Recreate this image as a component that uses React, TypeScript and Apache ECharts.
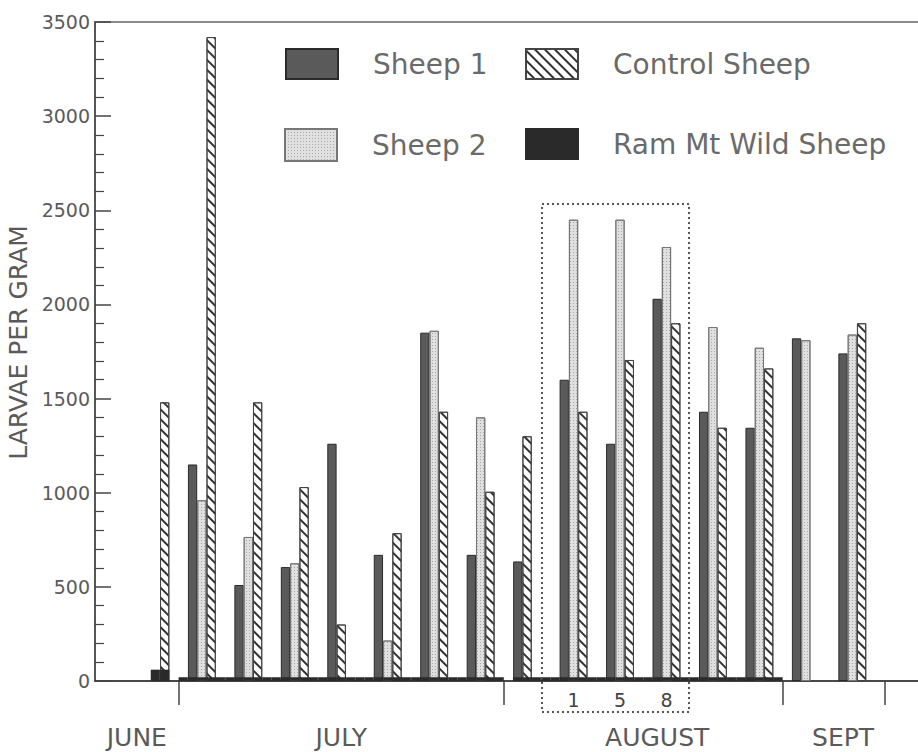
import React, { useEffect, useRef } from "react";
import * as echarts from "echarts";

// ---- data ----
const SLOT_COUNT = 89; // sampling slots along the time axis
const sampleStartSlots = [7, 10, 15, 20, 25, 30, 35, 40, 45, 50, 55, 60, 65, 70, 75, 80];
const sheep1Values = [null, 1150, 510, 605, 1260, 670, 1850, 670, 635, 1600, 1260, 2030, 1430, 1345, 1820, 1740];
const sheep2Values = [null, 960, 765, 625, null, 215, 1860, 1400, null, 2450, 2450, 2305, 1880, 1770, 1810, 1840];
const controlValues = [1480, 3420, 1480, 1030, 300, 785, 1430, 1005, 1300, 1430, 1705, 1900, 1345, 1660, null, 1900];
const ramFromSlots = [6, 9, 45];
const ramToSlots = [7, 43, 73];
const ramValues = [60, 20, 20];
const monthNames = ["JUNE", "JULY", "AUGUST", "SEPT"];
const monthLabelSlots = [4, 26, 60, 80];
const monthBoundarySlots = [9, 44, 74, 85];
const dayLabels = ["1", "5", "8"];
const dayLabelSlots = [51, 56, 61];
const yMin = 0;
const yMax = 3500;
const yInterval = 500;

const FONT = "DejaVu Sans";

function buildSeriesData() {
  const s1: (number | null)[] = new Array(SLOT_COUNT).fill(null);
  const s2: (number | null)[] = new Array(SLOT_COUNT).fill(null);
  const c: (number | null)[] = new Array(SLOT_COUNT).fill(null);
  const r: (number | null)[] = new Array(SLOT_COUNT).fill(null);
  sampleStartSlots.forEach((start, g) => {
    let slot = start;
    const vals = [sheep1Values[g], sheep2Values[g], controlValues[g]];
    const targets = [s1, s2, c];
    vals.forEach((v, k) => {
      if (v !== null && v !== undefined) {
        targets[k][slot] = v;
        slot += 1;
      }
    });
  });
  ramFromSlots.forEach((from, i) => {
    for (let s = from; s <= ramToSlots[i]; s++) r[s] = ramValues[i];
  });
  return { s1, s2, c, r };
}

export default function App() {
  const ref = useRef<HTMLDivElement>(null);
  useEffect(() => {
    if (!ref.current) return;
    const chart = echarts.init(ref.current, undefined, { renderer: "svg" });
    const { s1, s2, c, r } = buildSeriesData();
    const categories = Array.from({ length: SLOT_COUNT }, (_, i) => String(i));
    const BAR_W = 9.3;

    const legendCommon = {
      orient: "horizontal",
      icon: "rect",
      padding: 0,
      selectedMode: false,
      itemWidth: 52,
      itemHeight: 30,
      textStyle: { fontSize: 28, color: "#6a6a6a", fontFamily: FONT, padding: [0, 0, 0, 30] },
    };

    const option: any = {
      animation: false,
      backgroundColor: "#fff",
      grid: {
        left: 95,
        top: 22,
        width: 827,
        bottom: 71,
        outerBoundsMode: "none",
        containLabel: false,
        show: true,
        borderColor: "#666",
        borderWidth: 1.5,
        backgroundColor: "transparent",
      },
      legend: [
        { ...legendCommon, data: ["Sheep 1"], left: 285, top: 48 },
        { ...legendCommon, data: ["Control Sheep"], left: 525, top: 48 },
        { ...legendCommon, data: ["Sheep 2"], left: 284, top: 128, itemHeight: 32 },
        { ...legendCommon, data: ["Ram Mt Wild Sheep"], left: 525, top: 128 },
      ],
      xAxis: [
        {
          type: "category",
          data: categories,
          boundaryGap: true,
          axisLine: { lineStyle: { color: "#333", width: 1.5 } },
          axisTick: {
            show: true,
            alignWithLabel: false,
            interval: (i: number) => monthBoundarySlots.includes(i),
            length: 24,
            lineStyle: { color: "#444", width: 1.5 },
          },
          axisLabel: {
            interval: 0,
            margin: 44,
            fontSize: 25,
            color: "#5a5a5a",
            fontFamily: FONT,
            formatter: (v: string) => {
              const k = monthLabelSlots.indexOf(Number(v));
              return k >= 0 ? monthNames[k] : "";
            },
          },
          splitLine: { show: false },
        },
        {
          type: "category",
          data: categories,
          position: "bottom",
          gridIndex: 0,
          boundaryGap: true,
          axisLine: { show: false },
          axisTick: { show: false },
          axisLabel: {
            interval: 0,
            margin: 9,
            fontSize: 19,
            color: "#444",
            fontFamily: FONT,
            formatter: (v: string) => {
              const k = dayLabelSlots.indexOf(Number(v));
              return k >= 0 ? dayLabels[k] : "";
            },
          },
          splitLine: { show: false },
        },
      ],
      yAxis: {
        type: "value",
        min: yMin,
        max: yMax,
        interval: yInterval,
        name: "LARVAE PER GRAM",
        nameLocation: "middle",
        nameGap: 64,
        nameTextStyle: { fontSize: 25, color: "#5a5a5a", fontFamily: FONT, padding: [0, 0, 0, 18] },
        axisLine: { show: true, lineStyle: { color: "#444", width: 1.5 } },
        axisTick: { show: true, inside: true, length: 16, lineStyle: { color: "#444", width: 1.5 } },
        minorTick: { show: true, splitNumber: 5, length: 9, lineStyle: { color: "#444", width: 1.2 } },
        splitLine: { show: false },
        axisLabel: {
          fontSize: 19,
          color: "#5a5a5a",
          margin: 5,
          fontFamily: FONT,
          formatter: (v: number) => String(v),
        },
      },
      series: [
        {
          name: "Sheep 1",
          type: "bar",
          data: s1,
          barWidth: BAR_W,
          barGap: "-100%",
          itemStyle: { color: "#5a5a5a", borderColor: "#2a2a2a", borderWidth: 1 },
        },
        {
          name: "Sheep 2",
          type: "bar",
          data: s2,
          barWidth: BAR_W,
          barGap: "-100%",
          itemStyle: {
            color: "#e0e0e0",
            borderColor: "#777",
            borderWidth: 1,
            decal: {
              symbol: "rect",
              symbolSize: 1,
              color: "#a8a8a8",
              dashArrayX: [1, 2],
              dashArrayY: [1, 2],
            },
          },
        },
        {
          name: "Control Sheep",
          type: "bar",
          data: c,
          barWidth: BAR_W,
          barGap: "-100%",
          itemStyle: {
            color: "#ffffff",
            borderColor: "#444",
            borderWidth: 1,
            decal: {
              symbol: "rect",
              symbolSize: 1,
              color: "#333",
              dashArrayX: [1, 0],
              dashArrayY: [1.5, 5],
              rotation: Math.PI / 4,
            },
          },
        },
        {
          name: "Ram Mt Wild Sheep",
          type: "bar",
          data: r,
          barWidth: BAR_W,
          barGap: "-100%",
          z: 3,
          itemStyle: { color: "#2a2a2a", borderColor: "#2a2a2a", borderWidth: 0.5 },
        },
      ],
      graphic: [
        {
          type: "rect",
          shape: { x: 542, y: 204, width: 147, height: 508 },
          style: { fill: "none", stroke: "#555", lineWidth: 2, lineDash: [2, 3] },
          z: 10,
        },
      ],
    };
    chart.setOption(option);
    return () => chart.dispose();
  }, []);
  return (
    <div
      ref={ref}
      style={{ position: "fixed", left: 0, top: 0, width: 918, height: 752, background: "#fff" }}
    />
  );
}
